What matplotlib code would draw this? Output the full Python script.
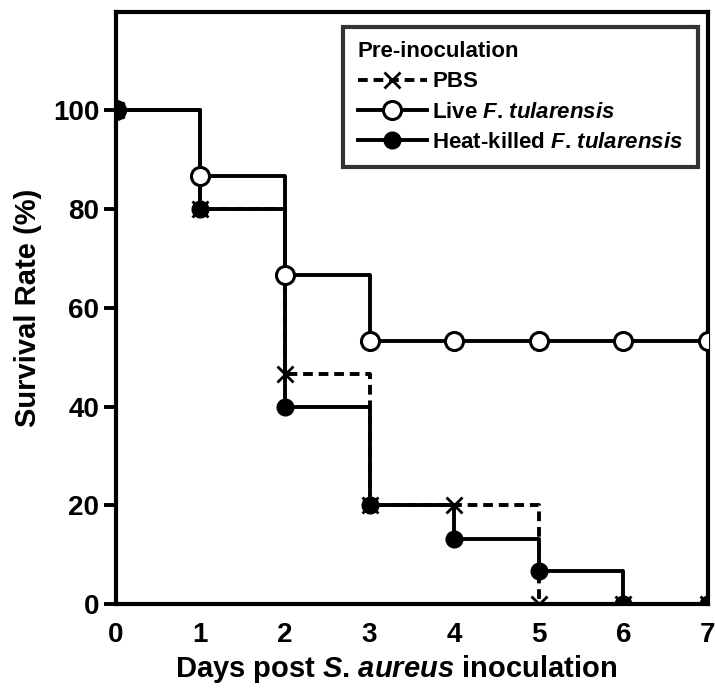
import matplotlib
matplotlib.use("Agg")
import matplotlib.pyplot as plt
from matplotlib.lines import Line2D

plt.rcParams['font.family'] = ['Liberation Sans', 'DejaVu Sans']
plt.rcParams['font.weight'] = 'bold'
plt.rcParams['mathtext.fontset'] = 'custom'
plt.rcParams['mathtext.it'] = 'Liberation Sans:bold:italic'
plt.rcParams['mathtext.rm'] = 'Liberation Sans:bold'

days = [0, 1, 2, 3, 4, 5, 6, 7]
pbs = [100, 80, 46.7, 20, 20, 0, 0, 0]
live = [100, 86.7, 66.7, 53.3, 53.3, 53.3, 53.3, 53.3]
heat = [100, 80, 40, 20, 13.3, 6.7, 0, 0]
yticks = [0, 20, 40, 60, 80, 100]

fig = plt.figure(figsize=(7.15, 6.89), dpi=100)
ax = fig.add_axes([0.162, 0.123, 0.828, 0.860])

lw = 2.8
dash = (0, (2.5, 1.5))
ax.plot(days, live, drawstyle='steps-post', color='black', lw=lw, zorder=3)
ax.plot(days, live, ls='none', marker='o', ms=13, mfc='white', mec='black', mew=2.2, zorder=4)
ax.plot(days, pbs, drawstyle='steps-post', color='black', lw=lw, ls=dash, zorder=3)
ax.plot(days, heat, drawstyle='steps-post', color='black', lw=lw, zorder=3)
ax.plot(days, heat, ls='none', marker='o', ms=12, mfc='black', mec='black', zorder=5)
ax.plot(days, pbs, ls='none', marker='x', ms=12, mec='black', mew=2.0, zorder=6)

handles = [
    Line2D([], [], color='black', lw=lw, ls=dash, marker='x', ms=12, mew=2.0),
    Line2D([], [], color='black', lw=lw, marker='o', ms=13, mfc='white', mec='black', mew=2.2),
    Line2D([], [], color='black', lw=lw, marker='o', ms=12, mfc='black'),
]
labels = ['PBS', 'Live $F$. $tularensis$', 'Heat-killed $F$. $tularensis$']
leg = ax.legend(handles, labels, title='Pre-inoculation', loc='upper right',
                bbox_to_anchor=(0.983, 0.975), fontsize=16, title_fontsize=16,
                frameon=True, fancybox=False, edgecolor='black', handlelength=3.1,
                handletextpad=0.25, borderpad=0.65, labelspacing=0.42, borderaxespad=0)
leg.get_frame().set_linewidth(3)
leg._legend_box.align = 'left'
leg.get_title().set_fontweight('bold')

ax.set_xlim(0, 7)
ax.set_ylim(0, 120)
ax.set_xticks(days)
ax.set_yticks(yticks)
ax.tick_params(axis='x', length=0, pad=13, labelsize=20)
ax.tick_params(axis='y', length=9, width=2.8, pad=3, labelsize=20, direction='out')
for s in ax.spines.values():
    s.set_linewidth(3)
    s.set_zorder(2)
for lab in ax.get_xticklabels() + ax.get_yticklabels():
    lab.set_fontweight('bold')

ax.set_xlabel('Days post $S$. $aureus$ inoculation', fontsize=21, fontweight='bold')
ax.xaxis.set_label_coords(0.473, -0.083)
ax.set_ylabel('Survival Rate (%)', fontsize=21, fontweight='bold', labelpad=8)

fig.savefig('out.png', dpi=100)
